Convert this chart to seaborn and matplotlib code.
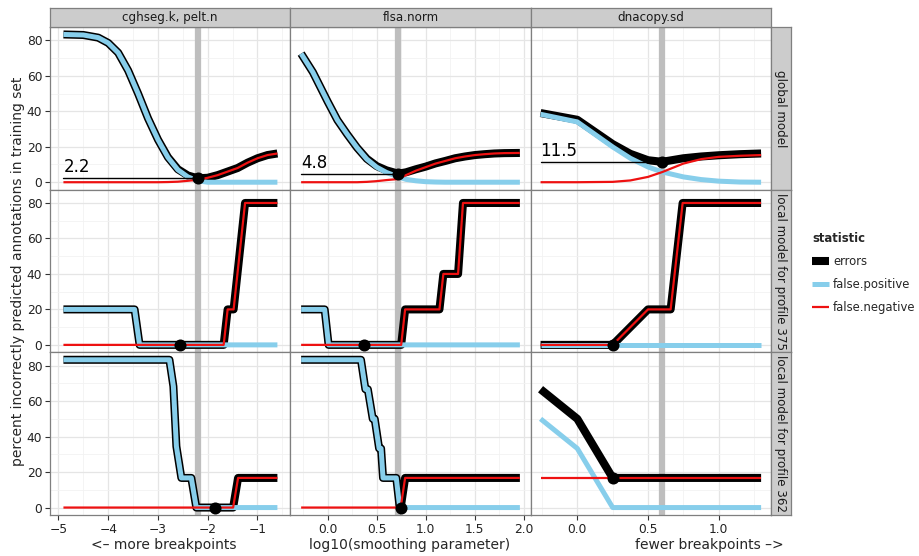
import numpy as np
import pandas as pd
import matplotlib
matplotlib.use('Agg')
import matplotlib.pyplot as plt
from matplotlib.lines import Line2D
from matplotlib.ticker import MultipleLocator
import seaborn as sns

# columns (algorithms) and rows (models)
algorithms = ['cghseg.k, pelt.n', 'flsa.norm', 'dnacopy.sd']
models = ['global model', 'local model for profile 375', 'local model for profile 362']
statistics = ['errors', 'false.positive', 'false.negative']

# ---- global model ----
cghseg_global_x = [-4.9, -4.5, -4.2, -4.0, -3.8, -3.6, -3.4, -3.2, -3.0, -2.8, -2.6, -2.4, -2.2,
                   -2.0, -1.8, -1.6, -1.4, -1.2, -1.0, -0.8, -0.6]
cghseg_global_fp = [83.3, 83.0, 81.5, 78.5, 73.0, 63.0, 50.0, 36.0, 24.0, 14.0, 7.0, 3.0, 0.8,
                    0.0, 0.0, 0.0, 0.0, 0.0, 0.0, 0.0, 0.0]
cghseg_global_fn = [0.0, 0.0, 0.0, 0.0, 0.0, 0.0, 0.0, 0.0, 0.0, 0.1, 0.3, 0.8, 1.4,
                    2.5, 4.0, 6.0, 8.0, 11.0, 13.5, 15.3, 16.2]
cghseg_global_err = [83.3, 83.0, 81.5, 78.5, 73.0, 63.0, 50.0, 36.0, 24.0, 14.1, 7.3, 3.8, 2.2,
                     2.5, 4.0, 6.0, 8.0, 11.0, 13.5, 15.3, 16.2]

flsa_global_x = [-0.27, -0.15, 0.0, 0.1, 0.2, 0.3, 0.4, 0.5, 0.6, 0.72, 0.8, 0.9, 1.0, 1.1,
                 1.2, 1.3, 1.4, 1.5, 1.6, 1.7, 1.8, 1.96]
flsa_global_fp = [72.5, 62.0, 45.5, 35.0, 27.0, 19.5, 13.0, 8.5, 5.5, 3.0, 1.6, 0.8, 0.3, 0.1,
                  0.0, 0.0, 0.0, 0.0, 0.0, 0.0, 0.0, 0.0]
flsa_global_fn = [0.0, 0.0, 0.0, 0.0, 0.0, 0.0, 0.2, 0.6, 1.2, 1.8, 4.0, 6.5, 8.5, 10.5,
                  12.0, 13.5, 14.5, 15.3, 15.8, 16.2, 16.4, 16.5]
flsa_global_err = [72.5, 62.0, 45.5, 35.0, 27.0, 19.5, 13.2, 9.1, 6.7, 4.8, 5.6, 7.3, 8.8, 10.6,
                   12.0, 13.5, 14.5, 15.3, 15.8, 16.2, 16.4, 16.5]

dnacopy_global_x = [-0.26, 0.0, 0.25, 0.375, 0.5, 0.6, 0.75, 0.875, 1.0, 1.15, 1.3]
dnacopy_global_fp = [38.3, 34.0, 19.9, 13.5, 8.6, 5.8, 3.0, 1.5, 0.6, 0.1, 0.0]
dnacopy_global_fn = [0.0, 0.0, 0.2, 1.0, 3.0, 5.7, 10.5, 13.0, 14.3, 14.9, 15.3]
dnacopy_global_err = [39.0, 35.2, 21.5, 16.0, 12.4, 11.5, 13.5, 14.5, 15.2, 15.8, 16.2]

# ---- local model, profile 375 ----
cghseg_375_x = [-4.9, -3.47, -3.37, -1.68, -1.60, -1.48, -1.25, -0.6]
cghseg_375_fp = [20, 20, 0, 0, 0, 0, 0, 0]
cghseg_375_fn = [0, 0, 0, 0, 20, 20, 80, 80]
cghseg_375_err = [20, 20, 0, 0, 20, 20, 80, 80]

flsa_375_x = [-0.27, -0.03, 0.01, 0.75, 0.79, 1.14, 1.18, 1.33, 1.38, 1.96]
flsa_375_fp = [20, 20, 0, 0, 0, 0, 0, 0, 0, 0]
flsa_375_fn = [0, 0, 0, 0, 20, 20, 40, 40, 80, 80]
flsa_375_err = [20, 20, 0, 0, 20, 20, 40, 40, 80, 80]

dnacopy_375_x = [-0.26, 0.0, 0.25, 0.5, 0.66, 0.745, 1.0, 1.3]
dnacopy_375_fp = [0, 0, 0, 0, 0, 0, 0, 0]
dnacopy_375_fn = [0, 0, 0, 20, 20, 80, 80, 80]
dnacopy_375_err = [0, 0, 0, 20, 20, 80, 80, 80]

# ---- local model, profile 362 ----
cghseg_362_x = [-4.9, -2.77, -2.69, -2.63, -2.53, -2.33, -2.23, -1.49, -1.39, -0.6]
cghseg_362_fp = [83.3, 83.3, 68.3, 34.5, 16.7, 16.7, 0, 0, 0, 0]
cghseg_362_fn = [0, 0, 0, 0, 0, 0, 0, 0, 16.7, 16.7]
cghseg_362_err = [83.3, 83.3, 68.3, 34.5, 16.7, 16.7, 0, 0, 16.7, 16.7]

flsa_362_x = [-0.27, 0.34, 0.385, 0.41, 0.46, 0.48, 0.525, 0.545, 0.565, 0.70, 0.735, 0.745,
              0.79, 1.96]
flsa_362_fp = [83.3, 83.3, 66.7, 66.7, 50.0, 50.0, 33.3, 33.3, 16.7, 16.7, 0, 0, 0, 0]
flsa_362_fn = [0, 0, 0, 0, 0, 0, 0, 0, 0, 0, 0, 0, 16.7, 16.7]
flsa_362_err = [83.3, 83.3, 66.7, 66.7, 50.0, 50.0, 33.3, 33.3, 16.7, 16.7, 0, 0, 16.7, 16.7]

dnacopy_362_x = [-0.26, 0.0, 0.25, 0.5, 0.75, 1.0, 1.3]
dnacopy_362_fp = [50.0, 33.3, 0, 0, 0, 0, 0]
dnacopy_362_fn = [16.7, 16.7, 16.7, 16.7, 16.7, 16.7, 16.7]
dnacopy_362_err = [66.7, 50.0, 16.7, 16.7, 16.7, 16.7, 16.7]

# chosen parameter (dot) per panel, rows = models, cols = algorithms
best_x = [[-2.2, 0.72, 0.6], [-2.55, 0.37, 0.25], [-1.86, 0.75, 0.25]]
best_y = [[2.2, 4.8, 11.5], [0, 0, 0], [0, 0, 16.7]]
# global choice drawn as grey vertical line in every row
global_x = [-2.2, 0.72, 0.6]

panels = {
    (0, 0): (cghseg_global_x, cghseg_global_err, cghseg_global_fp, cghseg_global_fn),
    (0, 1): (flsa_global_x, flsa_global_err, flsa_global_fp, flsa_global_fn),
    (0, 2): (dnacopy_global_x, dnacopy_global_err, dnacopy_global_fp, dnacopy_global_fn),
    (1, 0): (cghseg_375_x, cghseg_375_err, cghseg_375_fp, cghseg_375_fn),
    (1, 1): (flsa_375_x, flsa_375_err, flsa_375_fp, flsa_375_fn),
    (1, 2): (dnacopy_375_x, dnacopy_375_err, dnacopy_375_fp, dnacopy_375_fn),
    (2, 0): (cghseg_362_x, cghseg_362_err, cghseg_362_fp, cghseg_362_fn),
    (2, 1): (flsa_362_x, flsa_362_err, flsa_362_fp, flsa_362_fn),
    (2, 2): (dnacopy_362_x, dnacopy_362_err, dnacopy_362_fp, dnacopy_362_fn),
}

rows = []
for (r, c), (xs, err, fp, fn) in panels.items():
    for stat, vals in zip(statistics, [err, fp, fn]):
        for x, v in zip(xs, vals):
            rows.append(dict(model=models[r], algorithm=algorithms[c], statistic=stat, x=x, value=v))
df = pd.DataFrame(rows)

palette = {'errors': 'black', 'false.positive': '#87CEEB', 'false.negative': '#EE1111'}
sizes = {'errors': 5.8, 'false.positive': 3.6, 'false.negative': 1.6}

sns.set_theme(style='white')
plt.rcParams['font.family'] = ['DejaVu Sans']

fig = plt.figure(figsize=(9.19, 5.56), dpi=100)
axes = fig.subplots(3, 3, sharey=True, sharex='col', gridspec_kw=dict(wspace=0, hspace=0))
L, R, T, B = 50 / 919, 771 / 919, 1 - 27 / 556, 1 - 515 / 556
fig.subplots_adjust(left=L, right=R, top=T, bottom=B)

xlims = [(-5.17, -0.34), (-0.38, 2.07), (-0.33, 1.37)]
xmajor = [1.0, 0.5, 0.5]

for r in range(3):
    for c in range(3):
        ax = axes[r, c]
        ax.set_facecolor('white')
        ax.axvline(global_x[c], color='#BEBEBE', lw=4.5, zorder=1)
        sub = df[(df.model == models[r]) & (df.algorithm == algorithms[c])]
        sns.lineplot(data=sub, x='x', y='value', hue='statistic', size='statistic',
                     hue_order=statistics, size_order=statistics, palette=palette, sizes=sizes,
                     estimator=None, sort=False, legend=False, ax=ax, zorder=3)
        for ln in ax.lines[1:]:
            ln.set_solid_joinstyle('round')
            ln.set_solid_capstyle('butt')
        if r == 0:
            xs = panels[(r, c)][0]
            v = best_y[r][c]
            ax.plot([xs[0], best_x[r][c]], [v, v], color='black', lw=1, zorder=4)
            ax.annotate(f'{v:.1f}', (xs[0], v), xytext=(0, 1.5), textcoords='offset points',
                        ha='left', va='bottom', fontsize=12, color='black', zorder=5)
        ax.scatter([best_x[r][c]], [best_y[r][c]], s=75, color='black', zorder=6, linewidths=0)
        ax.set_xlim(*xlims[c])
        ax.set_ylim(-4.2, 87.5)
        ax.xaxis.set_major_locator(MultipleLocator(xmajor[c]))
        ax.xaxis.set_minor_locator(MultipleLocator(xmajor[c] / 2))
        ax.yaxis.set_major_locator(MultipleLocator(20))
        ax.yaxis.set_minor_locator(MultipleLocator(10))
        ax.grid(which='major', color='#E5E5E5', lw=0.9, zorder=0)
        ax.grid(which='minor', color='#F2F2F2', lw=0.6, zorder=0)
        ax.set_axisbelow(True)
        for sp in ax.spines.values():
            sp.set_color('#7F7F7F')
            sp.set_linewidth(0.9)
        ax.set_xlabel('')
        ax.set_ylabel('')
        ax.tick_params(which='minor', length=0)
        ax.tick_params(which='major', length=3.5, width=0.8, color='#333333',
                       labelsize=8.8, labelcolor='#222222', pad=2,
                       bottom=(r == 2), left=(c == 0), labelbottom=(r == 2), labelleft=(c == 0))

# x tick labels with ggplot style formatting
axes[2, 1].set_xticks([0.0, 0.5, 1.0, 1.5, 2.0])
axes[2, 1].set_xticklabels(['0.0', '0.5', '1.0', '1.5', '2.0'])
axes[2, 2].set_xticks([0.0, 0.5, 1.0])
axes[2, 2].set_xticklabels(['0.0', '0.5', '1.0'])
axes[2, 0].set_xticks([-5, -4, -3, -2, -1])
axes[2, 0].set_xticklabels(['\u22125', '\u22124', '\u22123', '\u22122', '\u22121'])

# strips
pw = (R - L) / 3
ph = (T - B) / 3
sh = 19 / 556
sw = 20 / 919
for c, name in enumerate(algorithms):
    sax = fig.add_axes([L + c * pw, T, pw, sh])
    sax.set_facecolor('#CCCCCC')
    sax.set_xticks([]); sax.set_yticks([])
    for sp in sax.spines.values():
        sp.set_color('#7F7F7F'); sp.set_linewidth(0.9)
    sax.text(0.5, 0.5, name, ha='center', va='center', fontsize=8.6, color='#1A1A1A')
for r, name in enumerate(models):
    sax = fig.add_axes([R, T - (r + 1) * ph, sw, ph])
    sax.set_facecolor('#CCCCCC')
    sax.set_xticks([]); sax.set_yticks([])
    for sp in sax.spines.values():
        sp.set_color('#7F7F7F'); sp.set_linewidth(0.9)
    sax.text(0.5, 0.5, name, ha='center', va='center', fontsize=8.6, color='#1A1A1A', rotation=-90)

fig.text(18 / 919, (T + B) / 2, 'percent incorrectly predicted annotations in training set',
         rotation=90, ha='center', va='center', fontsize=10)
fig.text(164 / 919, 1 - 545 / 556, '<\u2013 more breakpoints', ha='center', va='center', fontsize=10)
fig.text(410 / 919, 1 - 545 / 556, 'log10(smoothing parameter)', ha='center', va='center', fontsize=10)
fig.text(709 / 919, 1 - 545 / 556, 'fewer breakpoints \u2013>', ha='center', va='center', fontsize=10)

handles = [Line2D([], [], color=palette[s], lw=sizes[s], solid_capstyle='butt') for s in statistics]
leg = fig.legend(handles, statistics, title='statistic', loc='upper left',
                 bbox_to_anchor=(804 / 919, 1 - 224 / 556), frameon=False, fontsize=8.4,
                 handlelength=1.4, handletextpad=0.4, labelspacing=0.85, borderpad=0.2)
leg.get_title().set_fontweight('bold')
leg.get_title().set_fontsize(8.4)
leg._legend_box.align = 'left'

fig.savefig('out.png', dpi=100)
